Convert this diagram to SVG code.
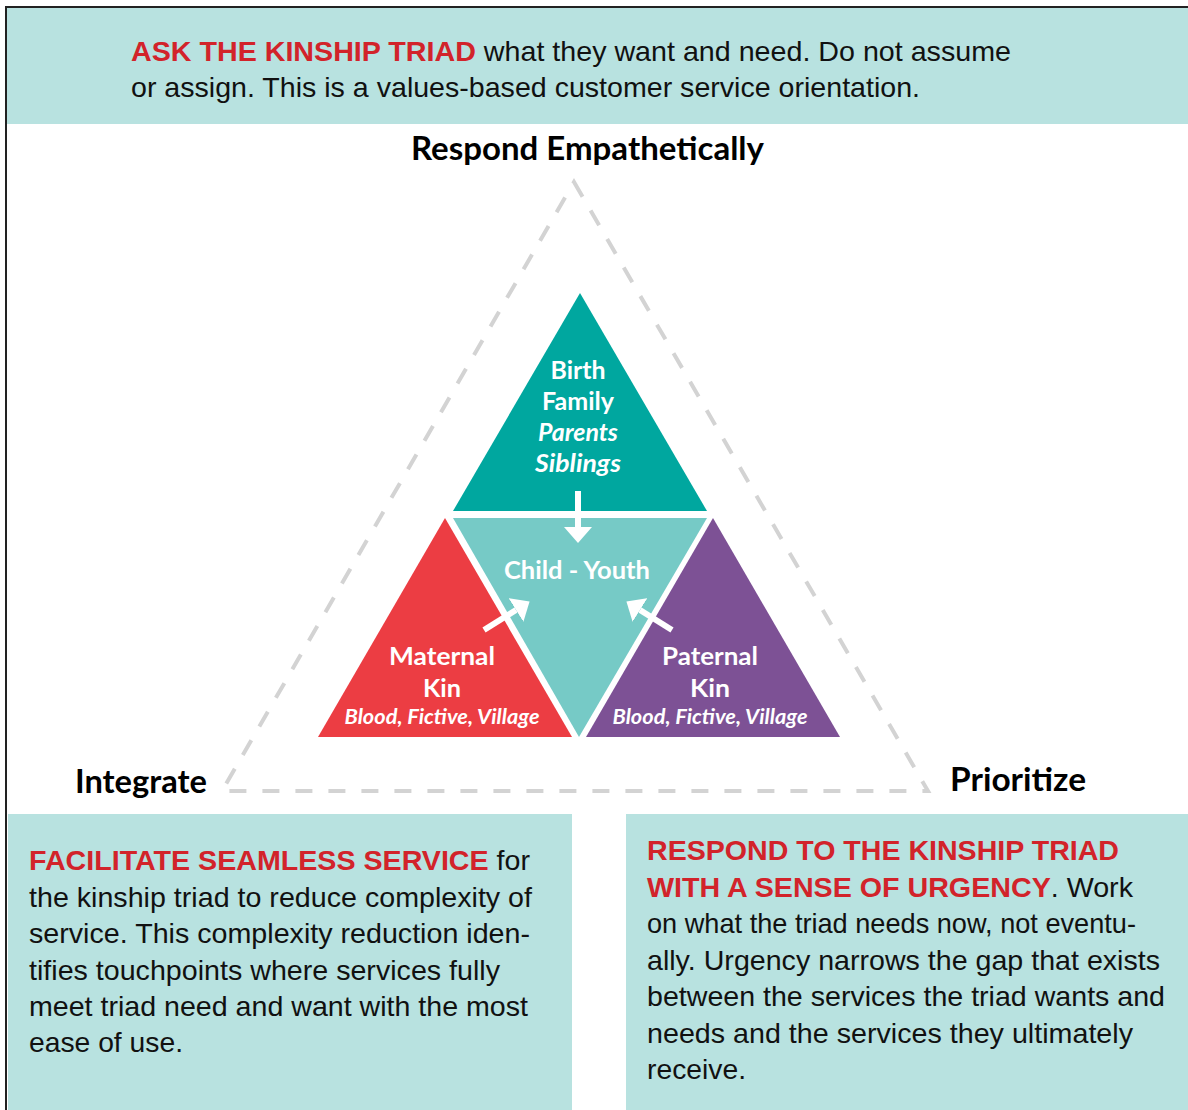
<svg xmlns="http://www.w3.org/2000/svg" width="1188" height="1110" viewBox="0 0 1188 1110">
<style>
.band{fill:#B8E2E0}
.body{font-family:"Liberation Sans",Arial,sans-serif;font-size:28px;fill:#111}
.red{fill:#D2232A}
.lab{font-family:"Lato","Open Sans",sans-serif;font-weight:700;font-size:32px;fill:#000}
.tri{font-family:"Lato","Open Sans",sans-serif;font-weight:700;font-size:25px;fill:#fff;text-anchor:middle}
.it{font-style:italic}
.sm{font-size:20px}
.arrow{stroke:#fff;stroke-width:6;fill:none}
</style>
<defs>
<marker id="ah" markerUnits="userSpaceOnUse" markerWidth="16" markerHeight="28" refX="0" refY="14" orient="auto" viewBox="0 0 16 28">
<path d="M0,0 L16,14 L0,28 z" fill="#fff"/>
</marker>
</defs>
<rect width="1188" height="1110" fill="#fff"/>
<g id="frame">
<path d="M6,1110 V7 H1188" fill="none" stroke="#222" stroke-width="2"/>
</g>
<g id="top-band">
<rect class="band" x="7" y="8" width="1181" height="116"/>
<text class="body" x="131" y="61" textLength="880" lengthAdjust="spacingAndGlyphs"><tspan class="red" font-weight="700">ASK THE KINSHIP TRIAD</tspan> what they want and need. Do not assume</text>
<text class="body" x="131" y="97" textLength="789" lengthAdjust="spacingAndGlyphs">or assign. This is a values-based customer service orientation.</text>
</g>
<g id="dashed-triangle">
<polygon points="574,182 928,791 222,791" fill="none" stroke="#D3D3D3" stroke-width="4" stroke-dasharray="17 16"/>
</g>
<g id="label-respond">
<text class="lab" x="411" y="160" textLength="353" lengthAdjust="spacingAndGlyphs">Respond Empathetically</text>
</g>
<g id="label-integrate">
<text class="lab" x="75" y="793" textLength="132" lengthAdjust="spacingAndGlyphs">Integrate</text>
</g>
<g id="label-prioritize">
<text class="lab" x="950" y="791" textLength="136" lengthAdjust="spacingAndGlyphs">Prioritize</text>
</g>
<g id="node-birth-family">
<polygon points="580,293 707,511 453,511" fill="#00A79F"/>
<text class="tri" x="578" y="379" textLength="55" lengthAdjust="spacingAndGlyphs">Birth</text>
<text class="tri" x="578" y="410" textLength="72" lengthAdjust="spacingAndGlyphs">Family</text>
<text class="tri it" x="578" y="441" textLength="80" lengthAdjust="spacingAndGlyphs">Parents</text>
<text class="tri it" x="578" y="472" textLength="86" lengthAdjust="spacingAndGlyphs">Siblings</text>
</g>
<g id="node-child-youth">
<polygon points="453,518 707,518 579,737" fill="#76CAC6"/>
<text class="tri" x="577" y="579" textLength="146" lengthAdjust="spacingAndGlyphs">Child - Youth</text>
</g>
<g id="node-maternal">
<polygon points="445,518 572,737 318,737" fill="#EC3D43"/>
<text class="tri" x="442" y="665" textLength="106" lengthAdjust="spacingAndGlyphs">Maternal</text>
<text class="tri" x="442" y="697" textLength="38" lengthAdjust="spacingAndGlyphs">Kin</text>
<text class="tri it sm" x="442" y="724" textLength="195" lengthAdjust="spacingAndGlyphs">Blood, Fictive, Village</text>
</g>
<g id="node-paternal">
<polygon points="713,518 840,737 586,737" fill="#7D5195"/>
<text class="tri" x="710" y="665" textLength="96" lengthAdjust="spacingAndGlyphs">Paternal</text>
<text class="tri" x="710" y="697" textLength="40" lengthAdjust="spacingAndGlyphs">Kin</text>
<text class="tri it sm" x="710" y="724" textLength="195" lengthAdjust="spacingAndGlyphs">Blood, Fictive, Village</text>
</g>
<g id="connectors">
<line class="arrow" x1="578" y1="491" x2="578" y2="527" marker-end="url(#ah)"/>
<line class="arrow" x1="484" y1="630" x2="516" y2="610" marker-end="url(#ah)"/>
<line class="arrow" x1="672" y1="630" x2="640" y2="610" marker-end="url(#ah)"/>
</g>
<g id="box-integrate">
<rect class="band" x="8" y="814" width="564" height="296"/>
<text class="body" x="29" y="870" textLength="501" lengthAdjust="spacingAndGlyphs"><tspan class="red" font-weight="700">FACILITATE SEAMLESS SERVICE</tspan> for</text>
<text class="body" x="29" y="907" textLength="503" lengthAdjust="spacingAndGlyphs">the kinship triad to reduce complexity of</text>
<text class="body" x="29" y="943" textLength="501" lengthAdjust="spacingAndGlyphs">service. This complexity reduction iden-</text>
<text class="body" x="29" y="980" textLength="471" lengthAdjust="spacingAndGlyphs">tifies touchpoints where services fully</text>
<text class="body" x="29" y="1016" textLength="499" lengthAdjust="spacingAndGlyphs">meet triad need and want with the most</text>
<text class="body" x="29" y="1052" textLength="154" lengthAdjust="spacingAndGlyphs">ease of use.</text>
</g>
<g id="box-prioritize">
<rect class="band" x="626" y="814" width="562" height="296"/>
<text class="body" x="647" y="860" textLength="472" lengthAdjust="spacingAndGlyphs"><tspan class="red" font-weight="700">RESPOND TO THE KINSHIP TRIAD</tspan></text>
<text class="body" x="647" y="897" textLength="486" lengthAdjust="spacingAndGlyphs"><tspan class="red" font-weight="700">WITH A SENSE OF URGENCY</tspan>. Work</text>
<text class="body" x="647" y="933" textLength="489" lengthAdjust="spacingAndGlyphs">on what the triad needs now, not eventu-</text>
<text class="body" x="647" y="970" textLength="513" lengthAdjust="spacingAndGlyphs">ally. Urgency narrows the gap that exists</text>
<text class="body" x="647" y="1006" textLength="518" lengthAdjust="spacingAndGlyphs">between the services the triad wants and</text>
<text class="body" x="647" y="1043" textLength="486" lengthAdjust="spacingAndGlyphs">needs and the services they ultimately</text>
<text class="body" x="647" y="1079" textLength="99" lengthAdjust="spacingAndGlyphs">receive.</text>
</g>
</svg>
